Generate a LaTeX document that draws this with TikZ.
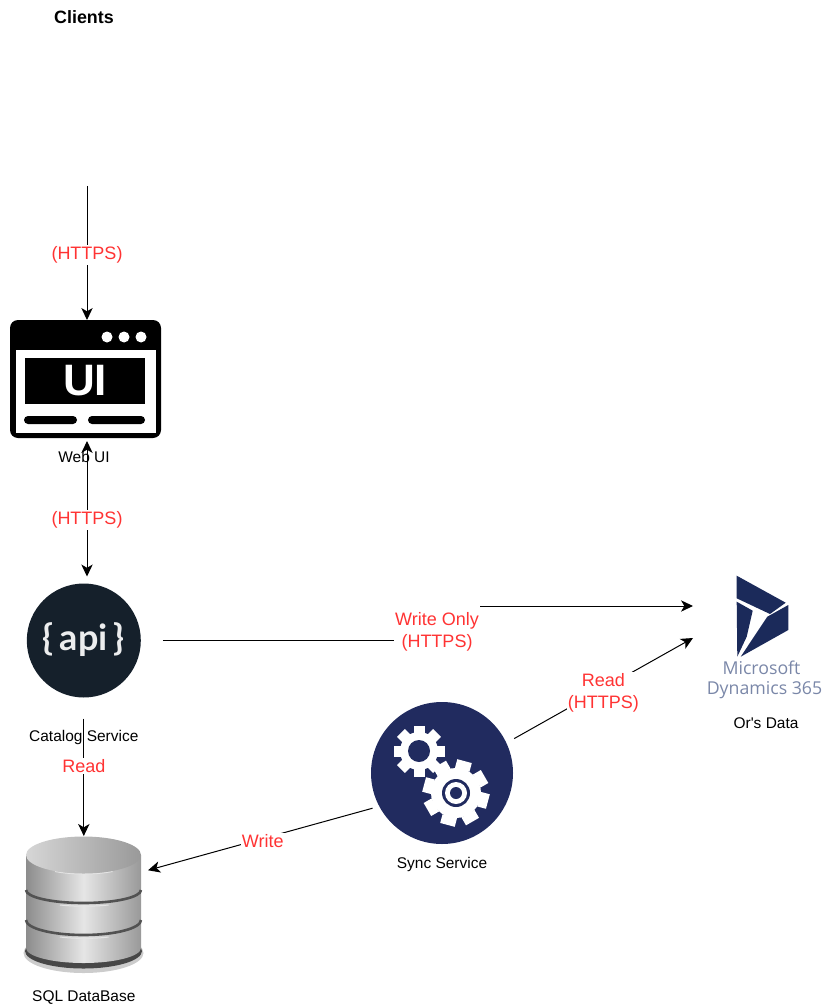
\documentclass[tikz,border=0pt]{standalone}
\usepackage{fontspec}
\setmainfont{Liberation Sans}
\newfontfamily\logofont{Open Sans}
\newfontfamily\apifont{Lato}
\newfontfamily\quotefont{Liberation Sans}
\usepackage{xcolor}
\definecolor{myred}{RGB}{255,51,51}
\definecolor{myapi}{RGB}{21,32,43}
\definecolor{mysync}{RGB}{33,43,95}
\definecolor{mydynamics}{RGB}{27,42,90}
\definecolor{mydynamicstext}{RGB}{122,135,168}
\usepackage{tikz}
\usetikzlibrary{arrows.meta}
\newcommand{\px}{0.75pt}
\newcommand{\gearicon}[5]{
    \fill[white] (#1) circle[radius=#3];
    \foreach \ang in {0,45,...,315} {
        \draw[white, line width=#5*\px, rounded corners=1pt] (#1) ++(\ang+#4:#3-1) -- ++(\ang+#4:#2-#3+1);
    }
}
\tikzset{
    >={Stealth[length=9pt, width=8.5pt, inset=2.5pt]},
    caption/.style={font=\fontsize{11.6}{14}\selectfont, inner sep=0pt},
    flowlabel/.style={font=\fontsize{13.5}{16.5}\selectfont, text=myred, fill=white, align=center, inner sep=1pt, yshift=-1.5pt},
    flow/.style={->, line width=\px},
    bothflow/.style={<->, line width=\px},
    icon/.style={inner sep=0pt, outer sep=0pt},
    webicon/.style={icon, rectangle, rounded corners=6pt, fill=black, minimum width=151*\px, minimum height=118*\px},
    apiicon/.style={icon, circle, fill=myapi, minimum size=114*\px},
    syncicon/.style={icon, circle, fill=mysync, minimum size=142*\px},
    dbicon/.style={icon, rectangle, minimum width=115*\px, minimum height=136*\px},
    dynicon/.style={icon, rectangle, minimum width=117*\px, minimum height=123*\px}
}
\begin{document}
\begin{tikzpicture}[x=\px, y=-\px]
            \useasboundingbox (0,0) rectangle (831,1005);

            \path
                (84,17) node[caption, font=\fontsize{13.4}{14}\selectfont\bfseries] (clients) {Clients}
                ++(3,169) coordinate (clients-out)
                (85.5,379) node[webicon] (webui) {}
                ++(-1.5,78) node[caption] (webui-label) {Web UI}
                (83.8,640.5) node[apiicon] (api) {}
                ++(0,96.5) node[caption] (api-label) {Catalog Service}
                (83.8,904) node[dbicon] (db) {}
                ++(0,94) node[caption] (db-label) {SQL DataBase}
                (442,773) node[syncicon] (sync) {}
                ++(0,91) node[caption] (sync-label) {Sync Service}
                (765,636) node[dynicon] (dyn) {}
                ++(1,87) node[caption] (dyn-label) {Or{\quotefont'}s Data};

            \fill[white] (16,350) -- (156,350) -- (156,433) -- (16,433) -- cycle;
            \fill[black] (25,358) rectangle (145,404);
            \fill[black, rounded corners=4*\px] (24,416) rectangle (77,424);
            \fill[black, rounded corners=4*\px] (88,416) rectangle (145,424);
            \foreach \dotx in {107,124,141} {
                \fill[white] (\dotx,337) circle[radius=5.5];
            }
            \node[text=white, font=\fontsize{33}{33}\selectfont\bfseries, inner sep=0pt] (webui-text) at (85,381) {UI};

            \node[text=white!92!myapi, font=\fontsize{27}{27}\apifont\selectfont\bfseries, inner sep=0pt] (api-text) at (83.8,640) {\{\,api\,\}};

            \gearicon{419,751}{25.5}{19}{0}{11}
            \fill[mysync] (419,751) circle[radius=11];
            \gearicon{456,793}{33}{25}{15}{15}
            \fill[mysync] (456,793) circle[radius=14];
            \fill[white] (456,793) circle[radius=11];
            \fill[mysync] (456,793) circle[radius=6];

            \fill[black!20] (83.5,953) ellipse[x radius=60, y radius=20];
            \fill[black!72] (83.5,951) ellipse[x radius=58.5, y radius=17.5];
            \shade[right color=black!40, left color=black!45, middle color=black!10]
                (26,855) -- (26,948) arc[start angle=180, end angle=0, x radius=57.5, y radius=15]
                -- (141,855) -- cycle;
            \draw[black!68, line width=2.6*\px] (26,890) arc[start angle=180, end angle=0, x radius=57.5, y radius=13];
            \draw[black!68, line width=2.6*\px] (26,920) arc[start angle=180, end angle=0, x radius=57.5, y radius=15];
            \draw[white!90!black, line width=\px] (55,871.5) arc[start angle=120, end angle=60, x radius=57.5, y radius=18.5];
            \draw[white!90!black, line width=\px] (60,905) arc[start angle=115, end angle=65, x radius=57.5, y radius=13];
            \draw[white!90!black, line width=\px] (60,937) arc[start angle=115, end angle=65, x radius=57.5, y radius=15];
            \shade[left color=black!16, right color=black!40]
                (83.5,855) ellipse[x radius=57.5, y radius=18.5];

            \fill[mydynamics] (736.7,575.7) -- (785.7,602.7) -- (770,614) -- (736.7,598.3) -- cycle;
            \fill[mydynamics] (736.7,601.7) -- (752.7,610.7) -- (746.7,636.7) -- (737.3,656.7) -- cycle;
            \fill[mydynamics] (788.3,605) -- (788.3,630) -- (740.7,656.7) -- (767.3,616.7) -- cycle;
            \node[text=mydynamicstext, font=\fontsize{13.3}{14.5}\logofont\selectfont, align=center, inner sep=0pt] (dyn-text) at (764.5,680) {Microsoft\hspace*{4.5pt}\\Dynamics 365};

            \coordinate (dyn-in-write) at (693,606);
            \coordinate (dyn-in-read) at (693,638);
            \coordinate (elbow-low) at (437,640.5);
            \coordinate (elbow-high) at (437,606);

            \draw[flow] (clients-out) -- node[flowlabel, pos=.5]{(HTTPS)} (clients-out |- webui.north);
            \draw[bothflow, shorten <=3*\px, shorten >=7*\px] (webui.south -| clients-out) -- node[flowlabel, pos=.55]{(HTTPS)} (api.north -| clients-out);
            \draw[flow, shorten <=22*\px] (api.east) -- (elbow-low) -- (elbow-high) -- (dyn-in-write);
            \node[flowlabel, inner ysep=5pt] (write-only) at (437,630) {Write Only\\(HTTPS)};
            \draw[flow, shorten <=21*\px] (api.south) -- node[flowlabel, pos=.48]{Read} (db.north -| api.south);
            \draw[flow, shorten <=7*\px, shorten >=7*\px] (sync.208) -- node[flowlabel, pos=.49]{Write} (db.29);
            \draw[flow, shorten <=9*\px] (sync.25) -- node[flowlabel, pos=.52, yshift=-1.5pt]{Read\\(HTTPS)} (dyn-in-read);
        \end{tikzpicture}
\end{document}
